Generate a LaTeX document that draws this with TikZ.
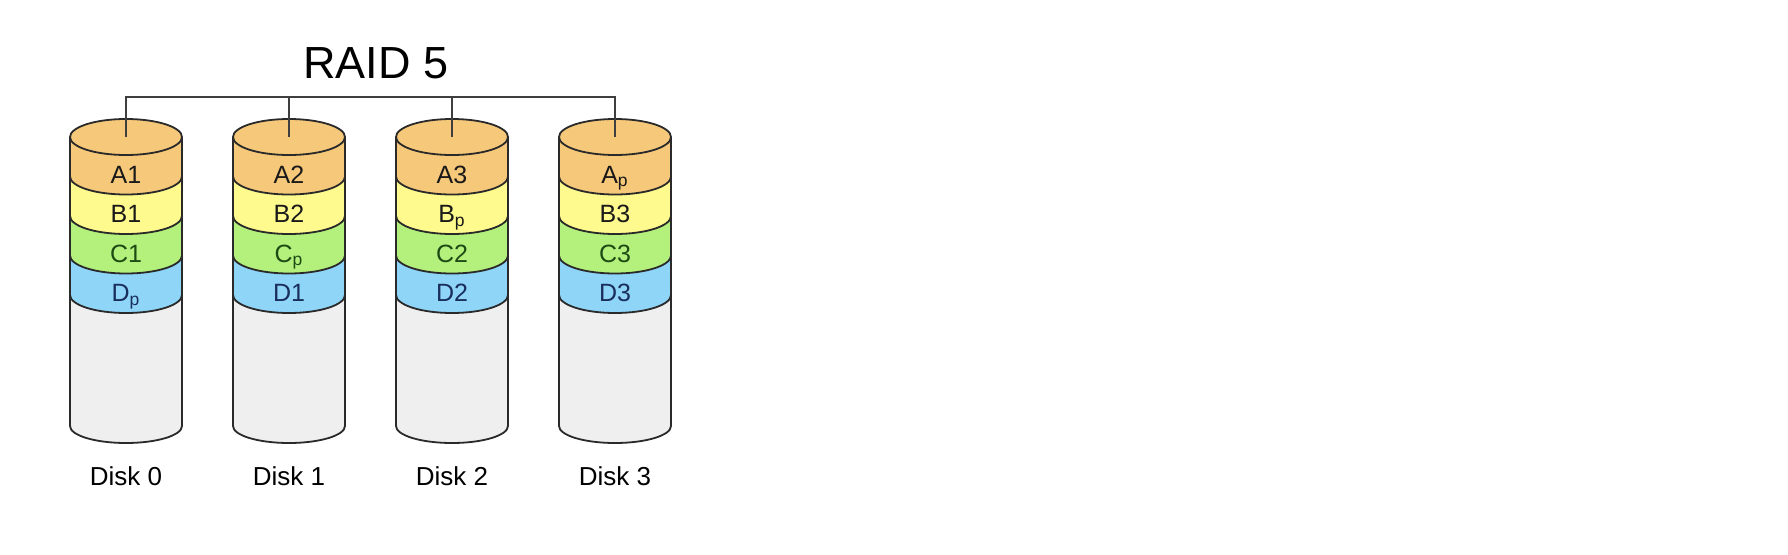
\documentclass[tikz,border=0pt]{standalone}
\usepackage{fontspec}
\setmainfont{Liberation Sans}
\usetikzlibrary{calc}
\definecolor{bandA}{HTML}{F6C87A}
\definecolor{bandB}{HTML}{FFFA8E}
\definecolor{bandC}{HTML}{B4F07C}
\definecolor{bandD}{HTML}{8FD5F7}
\definecolor{bandE}{HTML}{EFEFEF}
\definecolor{txtC}{HTML}{1E4A14}
\definecolor{txtD}{HTML}{1A2E5C}
\definecolor{edge}{HTML}{2A2A2A}
\tikzset{
	rim/.style={draw=edge, line width=0.9pt},
	link/.style={draw=edge!90, line width=0.7pt},
	lbl/.style={anchor=base, font=\fontsize{12.5}{14}\selectfont},
	disklbl/.style={anchor=base, font=\fontsize{13}{15}\selectfont},
}
\newcommand{\diskband}[4]{\fill[#4] (#1-56,#2) -- (#1-56,#3) arc[start angle=180,end angle=360,x radius=56,y radius=18] -- (#1+56,#2) arc[start angle=0,end angle=-180,x radius=56,y radius=18] -- cycle;}

\begin{document}
\begin{tikzpicture}[x=0.5pt,y=0.5pt]
\path[fill=white,use as bounding box] (0,0) rectangle (1788,554);
\foreach \x/\n/\la/\lb/\lc/\ld in {126/0/A1/B1/C1/D\textsubscript{p}, 289/1/A2/B2/C\textsubscript{p}/D1, 452/2/A3/B\textsubscript{p}/C2/D2, 615/3/A\textsubscript{p}/B3/C3/D3}{
	\fill[bandE] (\x-56,259) -- (\x-56,128) arc[start angle=180,end angle=360,x radius=56,y radius=17] -- (\x+56,259) arc[start angle=0,end angle=-180,x radius=56,y radius=18] -- cycle;
	\diskband{\x}{298.5}{259}{bandD}
	\diskband{\x}{338}{298.5}{bandC}
	\diskband{\x}{377.5}{338}{bandB}
	\diskband{\x}{417}{377.5}{bandA}
	\fill[bandA] (\x,417) ellipse[x radius=56,y radius=18];
	\draw[rim] (\x-56,417) -- (\x-56,128) arc[start angle=180,end angle=360,x radius=56,y radius=17] -- (\x+56,417);
	\draw[rim] (\x,417) ellipse[x radius=56,y radius=18];
	\foreach \y in {377.5,338,298.5,259}
		\draw[rim] (\x-56,\y) arc[start angle=180,end angle=360,x radius=56,y radius=18];
	\coordinate (t\n) at (\x,417);
	\node[lbl,text=black!90] (a\n) at (\x,370.75) {\la};
	\node[lbl,text=black!90] (b\n) at (\x,331.25) {\lb};
	\node[lbl,text=txtC] (c\n) at (\x,291.75) {\lc};
	\node[lbl,text=txtD] (d\n) at (\x,252.25) {\ld};
	\node[disklbl] (k\n) at (\x,69) {Disk \n};
}
\node[anchor=base,font=\fontsize{22.5}{26}\selectfont] (title) at (376,476) {RAID 5};
\coordinate (bar) at (376,457);
\draw[link] (t0) -- (t0 |- bar) -- (t3 |- bar) -- (t3);
\draw[link] (t1) -- (t1 |- bar);
\draw[link] (t2) -- (t2 |- bar);
\end{tikzpicture}
\end{document}
